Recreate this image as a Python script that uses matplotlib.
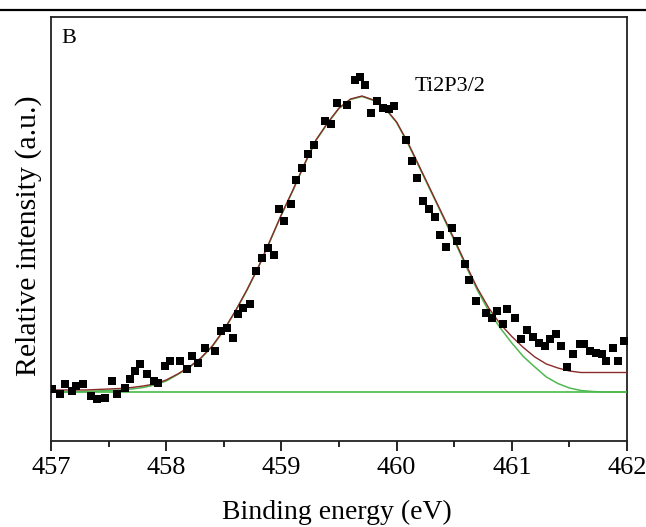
import matplotlib
matplotlib.use("Agg")
import matplotlib.pyplot as plt
from matplotlib.lines import Line2D
from matplotlib.ticker import MultipleLocator

plt.rcParams['font.family'] = ['Liberation Serif', 'DejaVu Serif']

# ---- measured data points (binding energy, intensity a.u.) ----
energy = [457.01, 457.08, 457.12, 457.18, 457.22, 457.28, 457.35, 457.40, 457.47, 457.53,
          457.57, 457.64, 457.69, 457.73, 457.77, 457.83, 457.89, 457.93, 457.99, 458.03,
          458.12, 458.18, 458.22, 458.28, 458.34, 458.42, 458.48, 458.53, 458.58, 458.62,
          458.67, 458.73, 458.78, 458.83, 458.88, 458.94, 458.98, 459.02, 459.08, 459.13,
          459.18, 459.23, 459.28, 459.38, 459.43, 459.48, 459.57, 459.64, 459.68, 459.73,
          459.78, 459.83, 459.88, 459.93, 459.98, 460.08, 460.13, 460.18, 460.23, 460.28,
          460.33, 460.38, 460.43, 460.48, 460.52, 460.59, 460.63, 460.69, 460.78, 460.83,
          460.87, 460.92, 460.96, 461.03, 461.08, 461.13, 461.18, 461.24, 461.29, 461.33,
          461.38, 461.43, 461.48, 461.53, 461.59, 461.63, 461.68, 461.73, 461.78, 461.82,
          461.88, 461.92, 461.97]
intensity = [52, 47, 57, 50, 55, 57, 45, 42, 43, 60,
             47, 53, 62, 70, 77, 67, 60, 58, 75, 80,
             80, 72, 85, 78, 93, 90, 110, 113, 103, 127,
             133, 137, 170, 183, 193, 186, 232, 220, 237, 261,
             273, 287, 296, 320, 317, 338, 336, 361, 364, 356,
             328, 340, 333, 332, 335, 301, 280, 263, 240, 232,
             224, 206, 194, 213, 200, 177, 161, 140, 128, 123,
             130, 117, 132, 123, 102, 111, 104, 98, 95, 102,
             107, 95, 74, 87, 97, 97, 90, 88, 87, 80,
             93, 80, 100]

# ---- fitted curves (0.1 eV grid) ----
fit_energy = [457.0, 457.1, 457.2, 457.3, 457.4, 457.5, 457.6, 457.7, 457.8, 457.9,
              458.0, 458.1, 458.2, 458.3, 458.4, 458.5, 458.6, 458.7, 458.8, 458.9,
              459.0, 459.1, 459.2, 459.3, 459.4, 459.5, 459.6, 459.7, 459.8, 459.9,
              460.0, 460.1, 460.2, 460.3, 460.4, 460.5, 460.6, 460.7, 460.8, 460.9,
              461.0, 461.1, 461.2, 461.3, 461.4, 461.5, 461.6, 461.7, 461.8, 461.9,
              462.0]
envelope = [51, 51, 51, 51, 51.5, 52, 52.5, 53.5, 55, 57,
            61, 67, 74, 83, 95, 111, 130, 151, 174, 200,
            226.5, 251, 277, 301, 318, 333, 342, 345, 341, 333,
            319, 298, 274, 250, 226, 202, 177, 153, 133, 117,
            104.5, 93.5, 84, 77, 73, 70, 68.5, 68.5, 68.5, 68.5,
            68.5]
component = [49, 49, 49, 49.5, 50, 50.5, 51, 52, 53.5, 56,
             60, 66.5, 73.5, 82.5, 94.5, 110.5, 129.5, 150.5, 173.5, 199.5,
             226, 250.5, 276.5, 300.5, 317.5, 332.5, 341.5, 344.5, 340.5, 332.5,
             318.5, 297, 273, 249, 225, 200.5, 175.5, 151, 130, 113,
             98, 84.5, 74, 64, 57.5, 53, 50.5, 49.5, 49, 49,
             49]
baseline_level = 49

W, H = 646, 527
fig = plt.figure(figsize=(W / 100, H / 100), dpi=100)
ax = fig.add_axes([51 / W, 1 - 441 / H, (627 - 51) / W, (441 - 17) / H])

ax.plot([fit_energy[0], fit_energy[-1]], [baseline_level, baseline_level],
        color='#55c055', lw=1.3, zorder=2)
ax.plot(fit_energy, component, color='#4fb84f', lw=1.1, zorder=3)
ax.plot(fit_energy, envelope, color='#8a2a2a', lw=1.0, zorder=4)
ax.plot(energy, intensity, ls='none', marker='s', ms=6, color='black',
        markeredgewidth=0, zorder=5)

ax.set_xlim(457, 462)
ax.set_ylim(0, 424)
ax.xaxis.set_major_locator(MultipleLocator(1))
ax.xaxis.set_minor_locator(MultipleLocator(0.5))
ax.set_xticks([457, 458, 459, 460, 461, 462])
ax.set_xticklabels(['457', '458', '459', '460', '461', '462'])
ax.set_yticks([])
ax.tick_params(axis='x', which='major', direction='out', length=7.2, width=1.2,
               labelsize=19, pad=4, top=False)
ax.tick_params(axis='x', which='minor', direction='out', length=4.5, width=1.2, top=False)
for s in ax.spines.values():
    s.set_linewidth(1.3)
    s.set_color('#222222')

ax.text(0.031, 0.95, 'B', transform=ax.transAxes, fontsize=16,
        ha='center', va='center')
ax.text(0.693, 0.835, 'Ti2P3/2', transform=ax.transAxes, fontsize=16,
        ha='center', va='center')

fig.text(337 / W, 1 - 512 / H, 'Binding energy (eV)', fontsize=20,
         ha='center', va='center')
fig.text(29 / W, 1 - 236 / H, 'Relative intensity (a.u.)', fontsize=21.5,
         ha='center', va='center', rotation=90)

fig.add_artist(Line2D([0, 1], [1 - 10 / H, 1 - 10 / H], color='black', lw=1.6,
                      transform=fig.transFigure))

fig.savefig('out.png', dpi=100)
